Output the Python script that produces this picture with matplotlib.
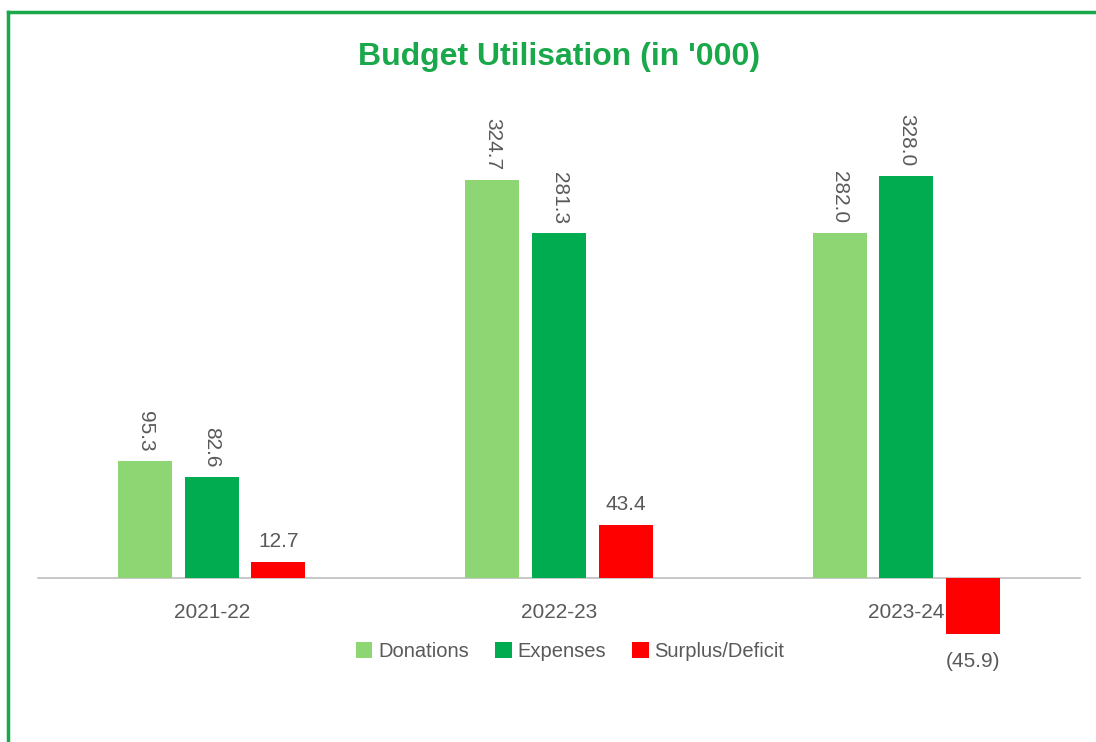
import numpy as np
import matplotlib.pyplot as plt
from matplotlib.lines import Line2D

# данные
years = ['2021-22', '2022-23', '2023-24']
donations = [95.3, 324.7, 282.0]
expenses = [82.6, 281.3, 328.0]
surplus = [12.7, 43.4, -45.9]

c_don = '#8ED673'
c_exp = '#00AC4F'
c_sur = '#FF0000'
txt = '#595959'

plt.rcParams['font.family'] = ['Liberation Sans', 'DejaVu Sans']

fig = plt.figure(figsize=(10.96, 7.42), dpi=100)
ax = fig.add_axes([0.0347, 0.122, 0.9507, 0.7264])

x = np.arange(len(years))
w = 0.155
off = 0.192

b1 = ax.bar(x - off, donations, w, color=c_don, label='Donations', zorder=3)
b2 = ax.bar(x, expenses, w, color=c_exp, label='Expenses', zorder=3)
b3 = ax.bar(x + off, surplus, w, color=c_sur, label='Surplus/Deficit', zorder=3)

# подписи значений
for bars in (b1, b2):
    for r in bars:
        h = r.get_height()
        ax.annotate(f'{h:.1f}', (r.get_x() + r.get_width() / 2, h),
                    xytext=(0, 7), textcoords='offset points',
                    rotation=270, ha='center', va='bottom',
                    fontsize=15, color=txt)
for r, v in zip(b3, surplus):
    xc = r.get_x() + r.get_width() / 2
    if v >= 0:
        ax.annotate(f'{v:.1f}', (xc, v), xytext=(0, 8), textcoords='offset points',
                    ha='center', va='bottom', fontsize=15, color=txt)
    else:
        ax.annotate(f'({abs(v):.1f})', (xc, v), xytext=(0, -13), textcoords='offset points',
                    ha='center', va='top', fontsize=15, color=txt)

ax.set_xlim(-0.5, 2.5)
ax.set_ylim(-60, 380)
for s in ['top', 'right', 'left']:
    ax.spines[s].set_visible(False)
ax.spines['bottom'].set_position(('data', 0))
ax.spines['bottom'].set_color('#BFBFBF')
ax.spines['bottom'].set_linewidth(1.2)
ax.spines['bottom'].set_zorder(2)
ax.set_xticks(x)
ax.set_xticklabels(years)
ax.tick_params(axis='x', length=0, pad=18, labelsize=15, labelcolor=txt)
ax.set_yticks([])

ax.legend(loc='center', bbox_to_anchor=(0.511, 0.0), ncol=3, frameon=False,
          fontsize=14.5, labelcolor=txt, handlelength=0.8, handleheight=0.8,
          handletextpad=0.3, columnspacing=1.3)

fig.text(0.51, 0.923, "Budget Utilisation (in '000)", ha='center', va='center',
         fontsize=23, fontweight='bold', color='#19A84A')

# зелёная рамка
fig.add_artist(Line2D([0.0075, 1.0], [0.984, 0.984], color='#19A84A', lw=2.5, transform=fig.transFigure))
fig.add_artist(Line2D([0.0075, 0.0075], [0.0, 0.984], color='#19A84A', lw=2.5, transform=fig.transFigure))

fig.savefig('out.png', dpi=100)
